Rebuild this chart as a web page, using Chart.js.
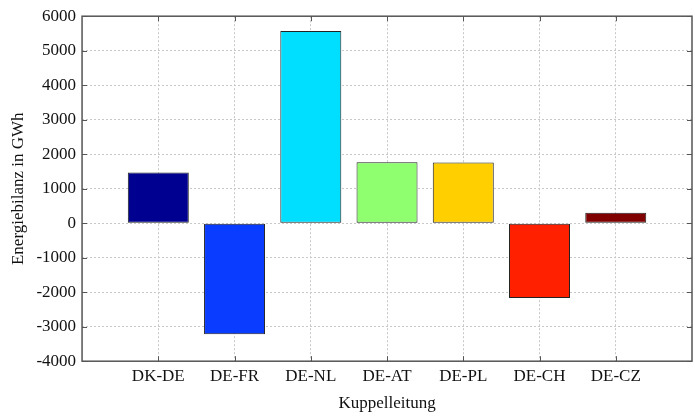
<!DOCTYPE html>
<html>
<head>
<meta charset="utf-8">
<script src="https://cdn.jsdelivr.net/npm/chart.js@4"></script>
<style>
  html, body { margin: 0; padding: 0; background: #fff; }
  #wrap { width: 695px; height: 419px; }
</style>
</head>
<body>
<div id="wrap"><canvas id="bilanzChart" width="695" height="419"></canvas></div>
<script>
// Energy balance per interconnector (GWh)
const categories = ['DK-DE', 'DE-FR', 'DE-NL', 'DE-AT', 'DE-PL', 'DE-CH', 'DE-CZ'];
const balance = [1470, -3220, 5570, 1770, 1760, -2170, 300];
const barColors = ['#000090', '#0a3cff', '#00dfff', '#8fff70', '#ffcf00', '#ff2000', '#800000'];
const yTicks = [-4000, -3000, -2000, -1000, 0, 1000, 2000, 3000, 4000, 5000, 6000];

const serif = '"Liberation Serif", "DejaVu Serif", serif';

// MATLAB-like box with inward ticks on all four sides
const boxTicks = {
    id: 'boxTicks',
    afterDraw(chart) {
        const { ctx, chartArea: a, scales } = chart;
        ctx.save();
        ctx.strokeStyle = '#555';
        ctx.lineWidth = 1;
        const len = 5;
        scales.y.ticks.forEach(t => {
            const y = Math.round(scales.y.getPixelForValue(t.value)) + 0.5;
            ctx.beginPath();
            ctx.moveTo(a.left, y); ctx.lineTo(a.left + len, y);
            ctx.moveTo(a.right, y); ctx.lineTo(a.right - len, y);
            ctx.stroke();
        });
        scales.x.ticks.forEach(t => {
            if (t.value < 1 || t.value > categories.length) return;
            const x = Math.round(scales.x.getPixelForValue(t.value)) + 0.5;
            ctx.beginPath();
            ctx.moveTo(x, a.bottom); ctx.lineTo(x, a.bottom - len);
            ctx.moveTo(x, a.top); ctx.lineTo(x, a.top + len);
            ctx.stroke();
        });
        ctx.lineWidth = 1.5;
        ctx.strokeRect(a.left, a.top, a.right - a.left, a.bottom - a.top);
        ctx.restore();
    }
};

new Chart(document.getElementById('bilanzChart'), {
    type: 'bar',
    data: {
        datasets: [{
            data: balance.map((v, i) => ({ x: i + 1, y: v })),
            backgroundColor: barColors,
            borderColor: '#222',
            borderWidth: 1,
            borderSkipped: false,
            barPercentage: 0.8,
            categoryPercentage: 1.0
        }]
    },
    options: {
        responsive: false,
        animation: false,
        layout: { padding: { top: 4, right: 3, left: 4, bottom: 1 } },
        plugins: { legend: { display: false }, tooltip: { enabled: false } },
        scales: {
            x: {
                type: 'linear',
                min: 0,
                max: 8,
                offset: false,
                afterBuildTicks(scale) {
                    scale.ticks = categories.map((c, i) => ({ value: i + 1 }));
                },
                ticks: {
                    callback: v => categories[v - 1] || '',
                    font: { family: serif, size: 17 },
                    color: '#111',
                    padding: 5,
                    maxRotation: 0
                },
                grid: { color: '#c8c8c8', offset: false, drawTicks: false },
                border: { display: false, dash: [2, 2] },
                title: {
                    display: true,
                    text: 'Kuppelleitung',
                    font: { family: serif, size: 17 },
                    color: '#111',
                    padding: { top: 2 }
                }
            },
            y: {
                min: -4000,
                max: 6000,
                afterBuildTicks(scale) {
                    scale.ticks = yTicks.map(v => ({ value: v }));
                },
                ticks: {
                    callback: v => String(v),
                    font: { family: serif, size: 17 },
                    color: '#111',
                    padding: 6
                },
                grid: { color: '#c8c8c8', drawTicks: false },
                border: { display: false, dash: [2, 2] },
                title: {
                    display: true,
                    text: 'Energiebilanz in GWh',
                    font: { family: serif, size: 17 },
                    color: '#111',
                    padding: { bottom: 2 }
                }
            }
        }
    },
    plugins: [boxTicks]
});
</script>
</body>
</html>
